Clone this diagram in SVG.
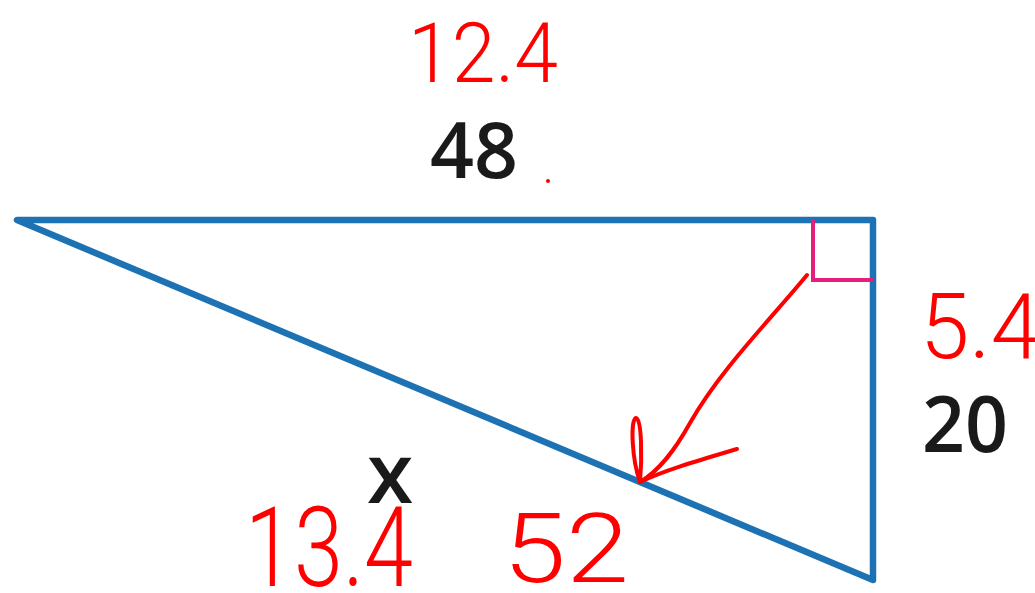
<svg xmlns="http://www.w3.org/2000/svg" width="1035" height="593" viewBox="0 0 1035 593">
<defs>
<style>
.edge{stroke:#1d72b3;stroke-width:6.5;fill:none;stroke-linecap:round;stroke-linejoin:round}
.ra{stroke:#e3207c;stroke-width:4;fill:none}
.lbl{font-family:"Open Sans","Liberation Sans",Arial,sans-serif;font-weight:600;fill:#1a1a1a}
.hand{font-family:Roboto,"Liberation Sans",sans-serif;font-weight:300;fill:#ff0000}
.ink{stroke:#ff0000;stroke-width:4;fill:none;stroke-linecap:round;stroke-linejoin:round}
</style>
</defs>
<rect width="1035" height="593" fill="#ffffff"/>
<g id="triangle">
<polygon class="edge" points="17,220 873,220 873,580"/>
<polyline class="ra" points="813,220 813,280 873,280"/>
</g>
<g id="connectors">
<path class="ink" d="M807,275 C770,320 720,370 690,423 C675,450 660,470 640,482"/>
<path class="ink" d="M640,482 C632,460 630,420 636,418 C642,418 642,460 640,482"/>
<path class="ink" d="M640,482 C665,470 700,460 737,449"/>
</g>
<g id="label-48"><text class="lbl" x="430" y="178" font-size="78" textLength="88" lengthAdjust="spacingAndGlyphs">48</text></g>
<g id="label-20"><text class="lbl" x="922" y="452" font-size="78" textLength="86" lengthAdjust="spacingAndGlyphs">20</text></g>
<g id="label-x"><text class="lbl" x="367" y="503" font-size="84">x</text></g>
<g id="hand-12-4"><text class="hand" x="408" y="82" font-size="84" textLength="150" lengthAdjust="spacingAndGlyphs">12.4</text><circle cx="548" cy="181" r="2" fill="#ff0000"/></g>
<g id="hand-5-4"><text class="hand" x="920" y="358" font-size="90" textLength="120" lengthAdjust="spacingAndGlyphs">5.4</text></g>
<g id="hand-13-4"><text class="hand" x="245" y="586" font-size="112" textLength="168" lengthAdjust="spacingAndGlyphs">13.4</text></g>
<g id="hand-52"><text class="hand" x="503" y="582" font-size="96" textLength="126" lengthAdjust="spacingAndGlyphs">52</text></g>
</svg>
